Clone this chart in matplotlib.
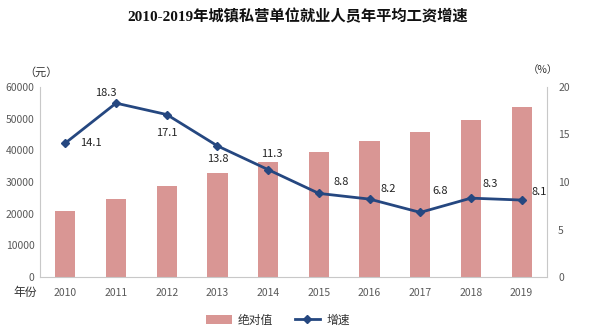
import matplotlib
matplotlib.use("Agg")
import matplotlib.pyplot as plt
from matplotlib.lines import Line2D
from matplotlib.patches import Patch

plt.rcParams['font.family'] = ['Noto Sans CJK SC', 'DejaVu Sans']

years = ['2010', '2011', '2012', '2013', '2014', '2015', '2016', '2017', '2018', '2019']
wages = [20759, 24556, 28752, 32706, 36390, 39589, 42833, 45761, 49575, 53604]
growth = [14.1, 18.3, 17.1, 13.8, 11.3, 8.8, 8.2, 6.8, 8.3, 8.1]
left_ticks = [0, 10000, 20000, 30000, 40000, 50000, 60000]
right_ticks = [0, 5, 10, 15, 20]
# label offsets in pixels (dx, dy)
label_offsets = [(26, 0), (-10, 10), (0, -18), (0, -13), (4, 16),
                 (22, 11), (19, 10), (20, 21), (19, 14), (18, 8)]

bar_color = '#D99694'
line_color = '#254780'
tick_color = '#595959'
axis_color = '#C8C8C8'

fig = plt.figure(figsize=(5.96, 3.31), dpi=100)
ax = fig.add_axes([40/596, 1 - 277/331, (547-40)/596, (277-87)/331])
x = list(range(len(years)))
ax.bar(x, wages, width=0.4, color=bar_color, zorder=2)
ax.set_xlim(-0.5, len(years) - 0.5)
ax.set_ylim(0, 60000)
ax.set_yticks(left_ticks)
ax.set_xticks(x)
ax.set_xticklabels(years)

ax2 = ax.twinx()
ax2.plot(x, growth, color=line_color, lw=2, marker='D', markersize=4, zorder=3)
ax2.set_ylim(0, 20)
ax2.set_yticks(right_ticks)

for a in (ax, ax2):
    a.spines['top'].set_visible(False)
    a.tick_params(colors=tick_color, labelsize=7.5, length=0, width=0.8)
    for s in ('left', 'right', 'bottom'):
        a.spines[s].set_color(axis_color)
ax.spines['right'].set_visible(False)
ax2.spines['left'].set_visible(False)
ax2.spines['bottom'].set_visible(False)
ax.tick_params(axis='x', pad=8)
ax.tick_params(axis='y', pad=4)
ax2.tick_params(axis='y', pad=8)
for lab in ax.get_yticklabels() + ax2.get_yticklabels() + ax.get_xticklabels():
    lab.set_color(tick_color)

for xi, g, (dx, dy) in zip(x, growth, label_offsets):
    ax2.annotate(f'{g}', (xi, g), xytext=(dx * 0.72, dy * 0.72), textcoords='offset points',
                 ha='center', va='center', fontsize=8, color='#222222', zorder=4)

fig.text(41/596, 1 - 72/331, '（元）', ha='center', va='center', fontsize=8, color='#333333')
fig.text(543/596, 1 - 70/331, '（%）', ha='center', va='center', fontsize=7.5, color='#333333')
fig.text(25/596, 1 - 292/331, '年份', ha='center', va='center', fontsize=8.5, color='#333333')

fig.text(298/596, 1 - 17/331, '2010-2019年城镇私营单位就业人员年平均工资增速', ha='center', va='center',
         fontsize=11, fontweight='bold', family=['Liberation Serif', 'Noto Sans CJK SC'], color='#111111')

handles = [Patch(facecolor=bar_color, edgecolor='none'),
           Line2D([0], [0], color=line_color, lw=2, marker='D', markersize=4)]
fig.legend(handles, ['绝对值', '增速'], loc='center', bbox_to_anchor=(278/596, 1 - 320/331),
           ncol=2, frameon=False, fontsize=8.5, handlelength=2.2, handleheight=0.7,
           columnspacing=1.8, handletextpad=0.5, labelcolor='#333333')

fig.savefig('out.png', dpi=100)
